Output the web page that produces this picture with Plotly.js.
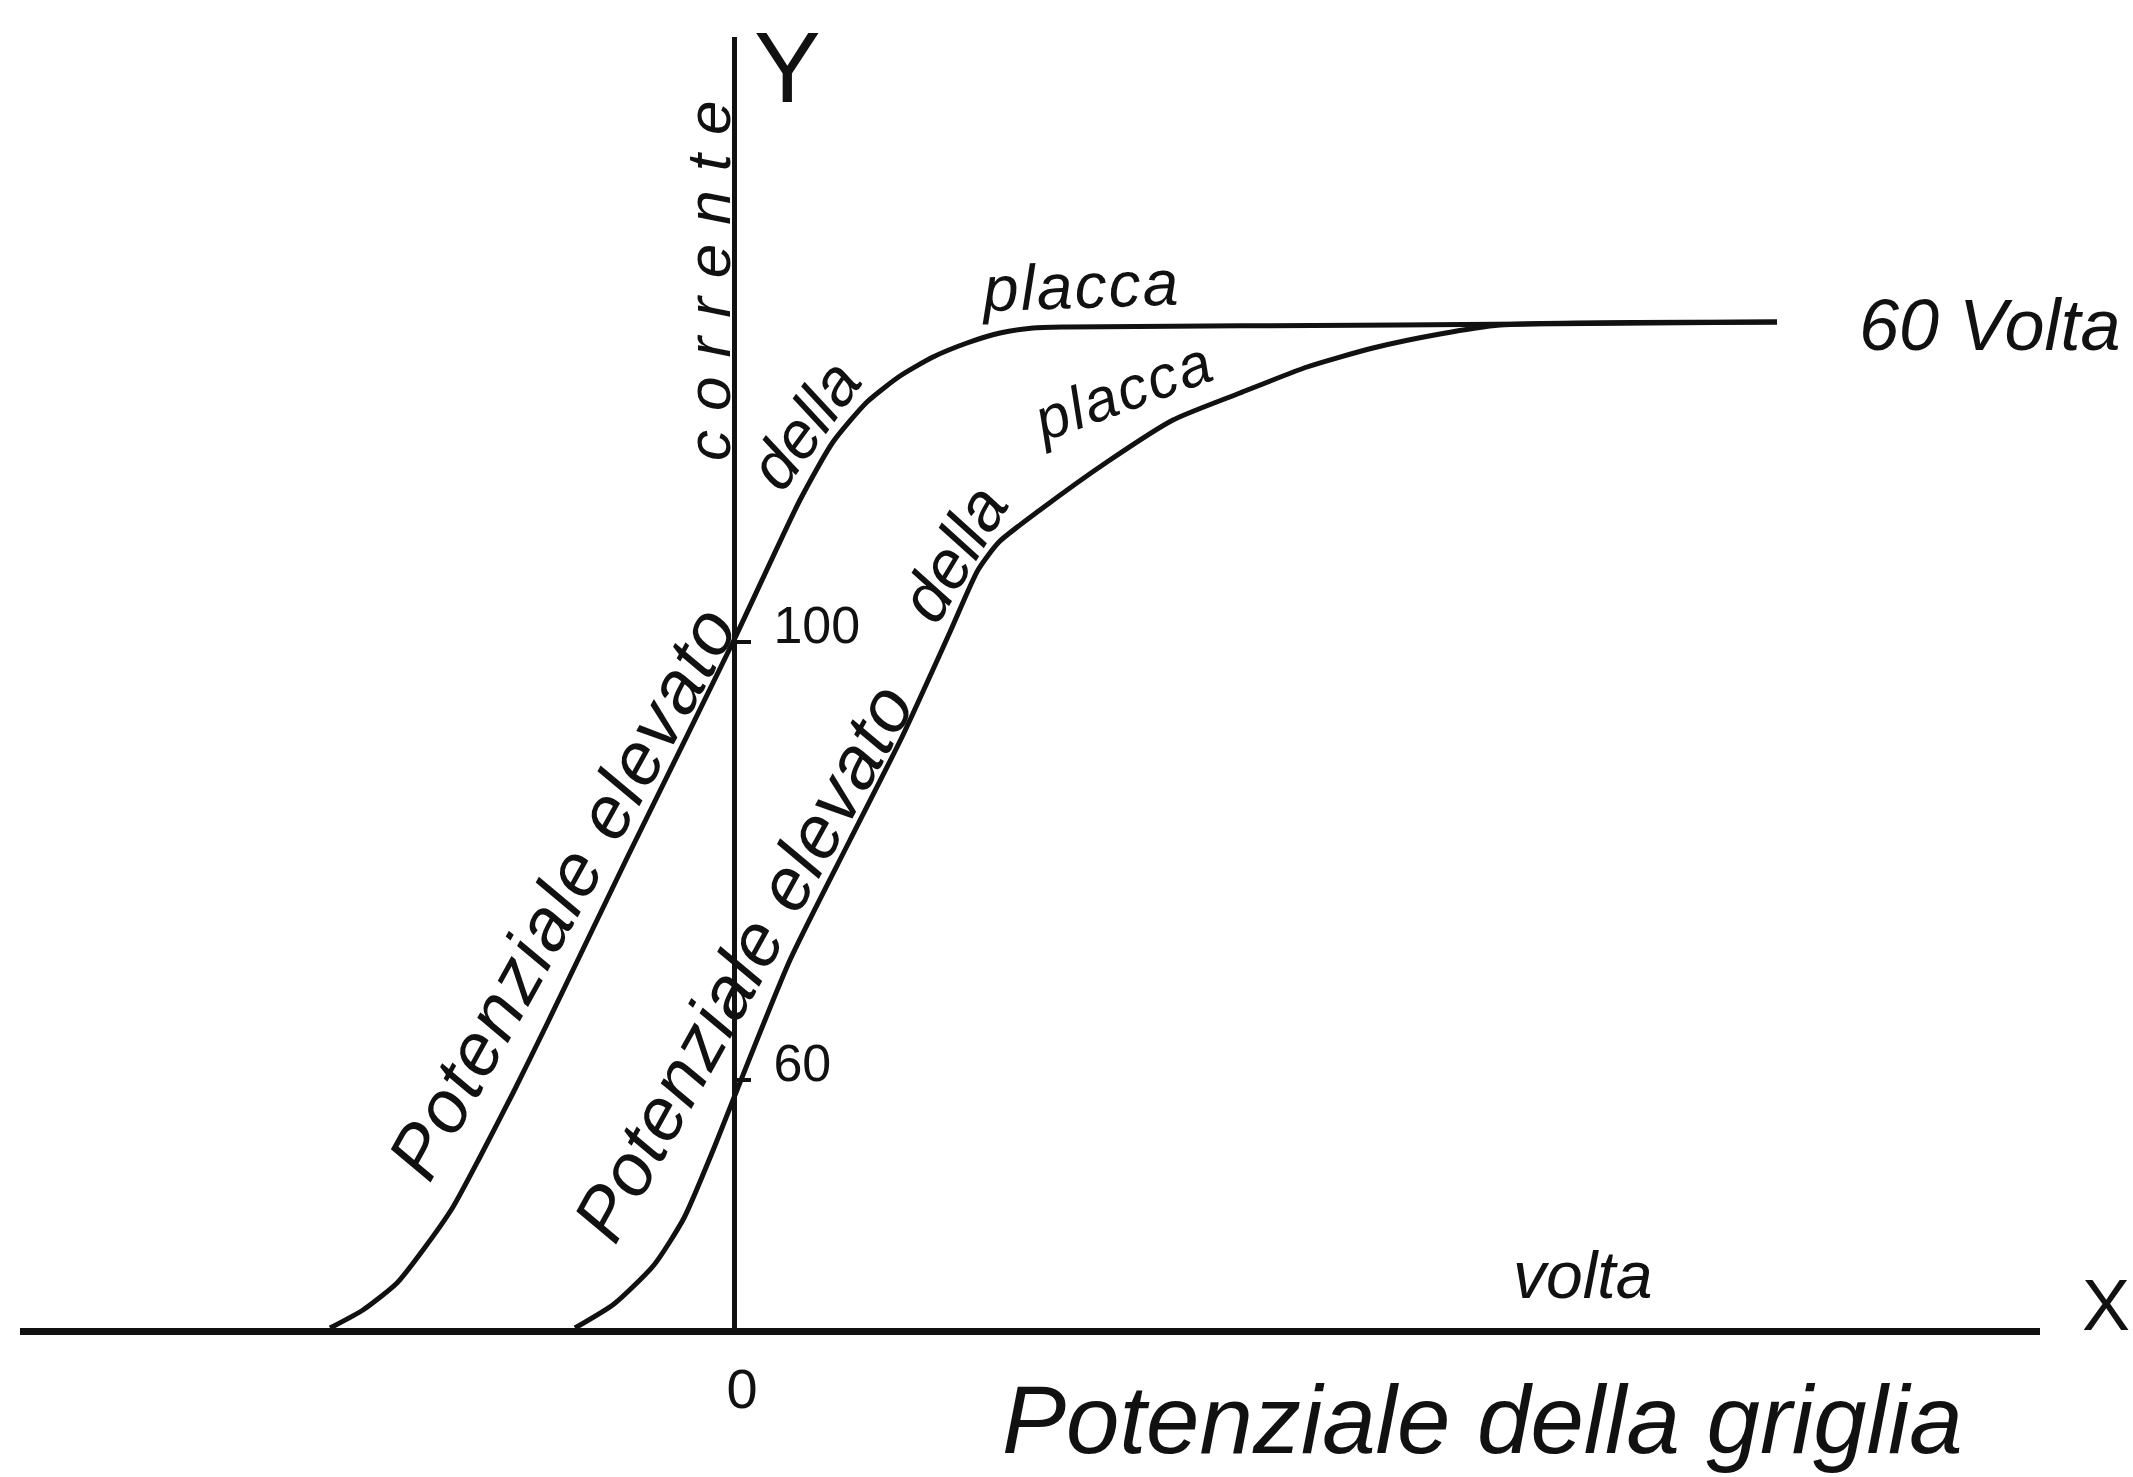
<!DOCTYPE html>
<html>
<head>
<meta charset="utf-8">
<script src="https://cdn.plot.ly/plotly-3.0.1.min.js"></script>
<style>
  html, body { margin: 0; padding: 0; background: #ffffff; }
  #chart { width: 2133px; height: 1477px; }
</style>
</head>
<body>
<div id="chart"></div>
<script>
// Caratteristiche di placca di un triodo: corrente di placca in funzione del
// potenziale della griglia, per due diversi potenziali di placca (unità arbitrarie).

// Curva a potenziale di placca più elevato (100 V)
const gridPotentialHigh = [-40.4, -37.1, -33.7, -31.1, -28.1, -25.4, -22.1, -18.7, -10.7, 0,
  6.6, 9.9, 13.3, 16.6, 19.9, 23.3, 26.6, 29.9, 33.3, 66.6, 104.3];
const plateCurrentHigh = [0, 1.8, 4.5, 7.8, 12.1, 17.1, 23.5, 30.4, 47.0, 68.8,
  82.8, 88.6, 92.6, 95.2, 97.1, 98.5, 99.5, 100.0, 100.1, 100.3, 100.6];

// Curva a potenziale di placca minore (60 V)
const gridPotentialLow = [-15.9, -12, -8, -5, -2, 0.3, 5.6, 11.6, 16.8, 21.6,
  24.4, 26.5, 30.6, 37.3, 43.9, 50.6, 57.3, 63.9, 70.6, 76.6, 104.3];
const plateCurrentLow = [0, 2.4, 6.3, 11.0, 18.0, 23.8, 36.8, 48.8, 59.1, 69.6,
  75.8, 78.6, 81.8, 86.6, 90.8, 93.5, 96.1, 98.0, 99.4, 100.3, 100.6];

// Tacche sull'asse delle correnti e relative scritte
const yTickValues = [68.6, 24.8];
const yTickLabels = ['100', '60'];
const xTickValues = [0];
const xTickLabels = ['0'];

// Estensione degli assi
const xRange = [-71.4, 130.6];
const yRange = [0, 129.1];

const INK = '#111111';
const FONT = 'Liberation Sans, Arial, sans-serif';

function curve(x, y, name) {
  return {
    type: 'scatter', mode: 'lines', name: name, x: x, y: y,
    line: { color: INK, width: 5, shape: 'spline', smoothing: 0.6 },
    hoverinfo: 'skip', showlegend: false
  };
}

function spaced(text, px) {
  return px ? '<span style="letter-spacing:' + px + 'px">' + text + '</span>' : text;
}

function note(text, x, y, size, angle, opts) {
  return Object.assign({
    text: text, x: x, y: y, xref: 'x', yref: 'y',
    xanchor: 'center', yanchor: 'middle', showarrow: false,
    textangle: angle || 0,
    font: { family: FONT, size: size, color: INK, style: 'italic' }
  }, opts || {});
}

const data = [
  curve(gridPotentialHigh, plateCurrentHigh, 'placca 100 V'),
  curve(gridPotentialLow, plateCurrentLow, 'placca 60 V')
];

// posizione dell'asse verticale (ascissa 0) in coordinate normalizzate
const yAxisPosition = (0 - xRange[0]) / (xRange[1] - xRange[0]);

const annotations = [
  // scritte lungo la curva superiore
  note(spaced('Potenziale elevato', 2), -17.2, 43.6, 74, -61),
  note('della', 7.0, 90.3, 66, -54),
  note(spaced('placca', 2), 34.6, 104.2, 64, -2),
  // scritte lungo la curva inferiore
  note(spaced('Potenziale elevato', 1), 0.9, 36.6, 74, -61),
  note('della', 21.9, 77.5, 68, -59),
  note(spaced('placca', 2), 38.8, 93.7, 60, -20),
  // nomi degli assi e indicazioni
  note(spaced('corrente', 19), -2.6, 105.6, 62, -90),
  note('Y', 5.3, 126.1, 100, 0, { font: { family: FONT, size: 100, color: INK } }),
  note('60 Volta', 125.6, 100.3, 72, 0),
  note('volta', 84.8, 5.3, 66, 0),
  note('X', 1.0327, 0.0178, 72, 0, { xref: 'paper', yref: 'paper',
    font: { family: FONT, size: 72, color: INK } }),
  note('Potenziale della griglia', 0.7238, -0.0705, 96, 0, { xref: 'paper', yref: 'paper' })
];

const layout = {
  width: 2133, height: 1477,
  margin: { l: 20, r: 93, t: 37, b: 149, pad: 0 },
  paper_bgcolor: '#ffffff', plot_bgcolor: '#ffffff',
  showlegend: false,
  xaxis: {
    range: xRange, showgrid: false, zeroline: false, automargin: false,
    showline: true, linecolor: INK, linewidth: 7,
    tickmode: 'array', tickvals: xTickValues, ticktext: xTickLabels,
    ticks: '', ticklabelstandoff: 6, ticklabelshift: 8,
    tickfont: { family: FONT, size: 56, color: INK }
  },
  yaxis: {
    range: yRange, showgrid: false, zeroline: false, automargin: false,
    anchor: 'free', position: yAxisPosition, side: 'right',
    showline: true, linecolor: INK, linewidth: 5,
    tickmode: 'array', tickvals: yTickValues, ticktext: yTickLabels,
    ticks: 'outside', ticklen: 14, tickwidth: 4, tickcolor: INK,
    ticklabelstandoff: 12, ticklabelshift: -17,
    tickfont: { family: FONT, size: 52, color: INK }
  },
  annotations: annotations
};

Plotly.newPlot('chart', data, layout, { staticPlot: true, displayModeBar: false });
</script>
</body>
</html>
